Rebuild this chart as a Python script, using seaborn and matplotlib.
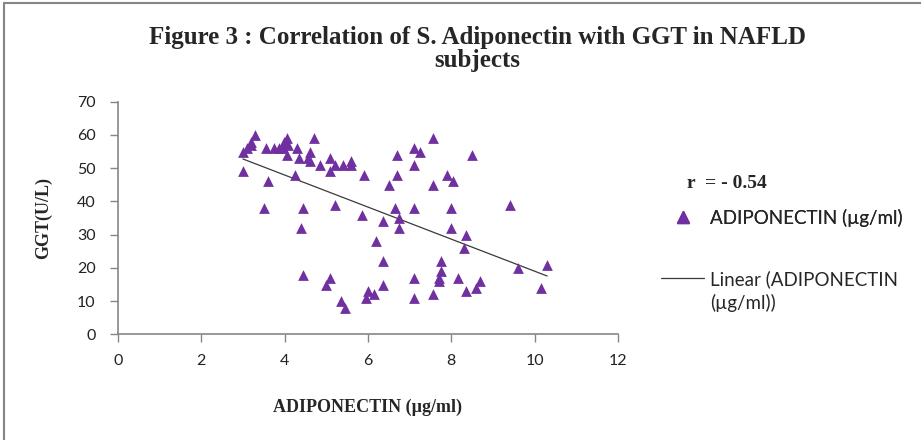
import numpy as np
import pandas as pd
import seaborn as sns
from matplotlib import pyplot as plt
from matplotlib.lines import Line2D

# data
adiponectin = [
    3.0, 3.0, 3.1, 3.2, 3.2, 3.3, 3.55, 3.75, 3.86, 3.98, 4.05, 4.08, 3.95,
    4.05, 4.3, 4.35, 3.6, 3.5, 4.25, 4.6, 4.55, 4.6, 4.7, 4.85, 5.1, 5.1,
    5.2, 5.4, 5.6, 5.6, 5.9, 4.45, 4.4, 4.45, 5.2, 5.85, 5.0, 5.1, 5.35,
    5.45, 5.95, 6.0, 6.15, 6.2, 6.35, 6.35, 6.35, 6.5, 6.7, 6.7, 6.65, 6.75,
    6.75, 7.1, 7.25, 7.1, 7.1, 7.1, 7.1, 7.55, 7.55, 7.55, 7.9, 8.05, 8.0,
    8.0, 7.75, 7.75, 7.7, 7.7, 8.15, 8.3, 8.5, 8.35, 8.35, 8.6, 8.7, 9.4,
    9.6, 10.3, 10.15,
]
ggt = [
    55, 49, 56, 58, 57, 60, 56, 56, 56, 58, 59, 57, 56,
    54, 56, 53, 46, 38, 48, 55, 53, 52, 59, 51, 53, 49,
    51, 51, 52, 51, 48, 38, 32, 18, 39, 36, 15, 17, 10,
    8, 11, 13, 12, 28, 34, 22, 15, 45, 48, 54, 38, 35,
    32, 56, 55, 51, 38, 17, 11, 59, 45, 12, 48, 46, 38,
    32, 22, 19, 17, 16, 17, 26, 54, 30, 13, 14, 16, 39,
    20, 21, 14,
]
r_text = "r  = - 0.54"
title = "Figure 3 : Correlation of S. Adiponectin with GGT in NAFLD\nsubjects"
x_ticks = [0, 2, 4, 6, 8, 10, 12]
y_ticks = [0, 10, 20, 30, 40, 50, 60, 70]

df = pd.DataFrame({"adiponectin": adiponectin, "ggt": ggt})

sns.set_style("white")
plt.rcParams["font.family"] = ["Lato", "DejaVu Sans"]

purple = "#7030A0"
axis_grey = "#868686"
line_grey = "#3a3a3a"

fig = plt.figure(figsize=(9.21, 4.40), dpi=100)
ax = fig.add_axes([0.128, 0.240, 0.543, 0.529])

sns.scatterplot(data=df, x="adiponectin", y="ggt", marker="^", s=60,
                color=purple, linewidth=0, ax=ax, zorder=3)
sns.regplot(data=df, x="adiponectin", y="ggt", scatter=False, ci=None,
            line_kws={"color": line_grey, "linewidth": 0.9}, ax=ax)

ax.set_xlim(0, 12)
ax.set_ylim(0, 70)
ax.set_xticks(x_ticks)
ax.set_yticks(y_ticks)
ax.tick_params(axis="both", direction="out", length=6, width=1,
               color=axis_grey, labelsize=11.5, labelcolor="#222222",
               bottom=True, left=True)
ax.tick_params(axis="x", pad=8)
ax.tick_params(axis="y", pad=10)
for side in ["top", "right"]:
    ax.spines[side].set_visible(False)
for side in ["left", "bottom"]:
    ax.spines[side].set_color(axis_grey)
    ax.spines[side].set_linewidth(1.2)

serif = ["Liberation Serif", "DejaVu Serif"]
ax.set_xlabel("ADIPONECTIN (µg/ml)", family=serif, fontweight="bold",
              fontsize=13, labelpad=22)
ax.set_ylabel("GGT(U/L)", family=serif, fontweight="bold", fontsize=13,
              labelpad=18)

fig.text(0.518, 0.888, title, ha="center", va="center", family=serif,
         fontweight="bold", fontsize=18, linespacing=0.98)
fig.text(0.746, 0.584, r_text, ha="left", va="center", family=serif,
         fontweight="bold", fontsize=14)

# legend entries placed like the Excel legend
scatter_handle = Line2D([], [], marker="^", linestyle="none", color=purple,
                        markersize=8)
line_handle = Line2D([], [], color=line_grey, linewidth=0.9)
leg_kw = dict(loc="center left", frameon=False, fontsize=13.5,
              handlelength=2.3, handletextpad=0.3, borderpad=0,
              borderaxespad=0)
leg1 = fig.legend([scatter_handle], ["ADIPONECTIN (µg/ml)"],
                  bbox_to_anchor=(0.718, 0.505), **leg_kw)
fig.add_artist(leg1)
fig.legend([line_handle], ["Linear (ADIPONECTIN"],
           bbox_to_anchor=(0.718, 0.366), **leg_kw)
fig.text(0.771, 0.311, "(µg/ml))", ha="left", va="center", fontsize=13.5)

# chart border (left and top edges visible in the reference)
fig.add_artist(Line2D([0.004, 0.004], [0, 0.993], transform=fig.transFigure,
                      color=axis_grey, linewidth=1.5))
fig.add_artist(Line2D([0.004, 1], [0.993, 0.993], transform=fig.transFigure,
                      color=axis_grey, linewidth=1.5))

fig.savefig("out.png", dpi=100)
